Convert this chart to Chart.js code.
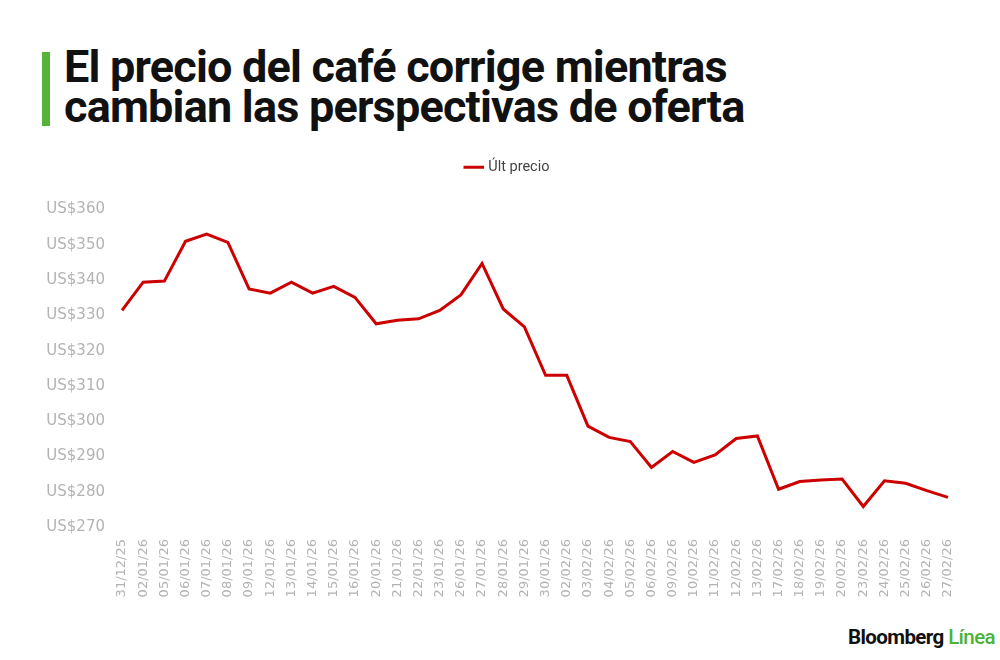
<!DOCTYPE html>
<html>
<head>
<meta charset="utf-8">
<script src="https://cdn.jsdelivr.net/npm/chart.js@4"></script>
<style>
  body { margin: 0; width: 1000px; height: 660px; background: #fff; position: relative; overflow: hidden; font-family: Roboto, 'Liberation Sans', sans-serif; }
  .bar { position: absolute; left: 42px; top: 52px; width: 8px; height: 74px; background: #56b33a; }
  h1 { position: absolute; left: 64px; top: 47px; margin: 0; font-size: 45px; line-height: 40px; font-weight: 700; letter-spacing: -0.8px; color: #111; }
  .wrap { position: absolute; left: 0; top: 152px; width: 1000px; height: 465px; }
  .logo { position: absolute; right: 5px; top: 625px; font-size: 20.5px; font-weight: 700; letter-spacing: -0.6px; color: #111; }
  .logo span { color: #4cb33a; font-weight: 500; }
</style>
</head>
<body>
<div class="bar"></div>
<h1>El precio del café corrige mientras<br>cambian las perspectivas de oferta</h1>
<div class="wrap"><canvas id="chart"></canvas></div>
<div class="logo">Bloomberg <span>Línea</span></div>
<script>
// fechas (eje x)
const fechas = [
  '31/12/25', '02/01/26', '05/01/26', '06/01/26', '07/01/26', '08/01/26', '09/01/26', '12/01/26',
  '13/01/26', '14/01/26', '15/01/26', '16/01/26', '20/01/26', '21/01/26', '22/01/26', '23/01/26',
  '26/01/26', '27/01/26', '28/01/26', '29/01/26', '30/01/26', '02/02/26', '03/02/26', '04/02/26',
  '05/02/26', '06/02/26', '09/02/26', '10/02/26', '11/02/26', '12/02/26', '13/02/26', '17/02/26',
  '18/02/26', '19/02/26', '20/02/26', '23/02/26', '24/02/26', '25/02/26', '26/02/26', '27/02/26'
];

// último precio (US$)
const ultPrecio = [
  331.4, 339.4, 339.7, 351.0, 353.0, 350.7, 337.5, 336.3,
  339.4, 336.3, 338.2, 335.1, 327.6, 328.6, 329.0, 331.4,
  335.8, 344.7, 331.8, 326.7, 313.0, 313.0, 298.6, 295.4,
  294.2, 286.9, 291.4, 288.3, 290.4, 295.1, 295.8, 280.7,
  282.9, 283.3, 283.6, 275.8, 283.1, 282.4, 280.3, 278.4
];

// ticks del eje y
const yMin = 270;
const yMax = 360;
const yStep = 10;

// espacio extra bajo la leyenda y leyenda un poco a la derecha
const legendGap = {
  id: 'legendGap',
  beforeInit(chart) {
    const fit = chart.legend.fit;
    chart.legend.fit = function () {
      fit.bind(chart.legend)();
      this.height += 25;
    };
  },
  afterLayout(chart) {
    chart.legend.left += 34;
    chart.legend.right += 34;
  }
};

new Chart(document.getElementById('chart'), {
  type: 'line',
  data: {
    labels: fechas,
    datasets: [{
      label: 'Últ precio',
      data: ultPrecio,
      borderColor: '#cc0000',
      backgroundColor: '#cc0000',
      borderWidth: 3,
      pointRadius: 0,
      tension: 0
    }]
  },
  options: {
    responsive: true,
    maintainAspectRatio: false,
    animation: false,
    layout: { padding: { left: 0, right: 52, top: 0, bottom: 0 } },
    plugins: {
      legend: {
        display: true,
        position: 'top',
        labels: {
          usePointStyle: true,
          pointStyle: 'line',
          boxWidth: 22,
          color: '#444',
          font: { family: "Roboto, 'Liberation Sans', sans-serif", size: 14.5 },
          padding: 8
        }
      },
      tooltip: { enabled: false }
    },
    scales: {
      x: {
        offset: false,
        grid: { display: false, drawTicks: false },
        border: { display: false },
        ticks: {
          autoSkip: false,
          maxRotation: 90,
          minRotation: 90,
          padding: 12,
          color: '#b3b3b3',
          font: { family: "'DejaVu Sans', sans-serif", size: 13 }
        },
        afterFit(scale) { scale.height = 90; }
      },
      y: {
        min: yMin,
        max: yMax,
        grid: { display: false, drawTicks: false },
        border: { display: false },
        ticks: {
          stepSize: yStep,
          padding: 17,
          color: '#b3b3b3',
          font: { family: "'DejaVu Sans', sans-serif", size: 15 },
          callback: v => 'US$' + v
        },
        afterFit(scale) { scale.width = 122; }
      }
    }
  },
  plugins: [legendGap]
});
</script>
</body>
</html>
